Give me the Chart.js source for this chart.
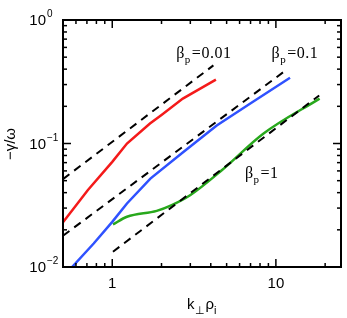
<!DOCTYPE html>
<html>
<head>
<meta charset="utf-8">
<script src="https://cdn.jsdelivr.net/npm/chart.js@4.4.1/dist/chart.umd.min.js"></script>
<style>
  html, body { margin: 0; padding: 0; background: #fff; }
  #wrap { width: 347px; height: 318px; position: relative; }
</style>
</head>
<body>
<div id="wrap"><canvas id="growth"></canvas></div>
<script>
// growth rate curves (k_perp rho_i , -gamma/omega)
const red_k   = [0.50, 0.71, 1.00, 1.23, 1.70, 2.00, 2.70, 4.30];
const red_g   = [0.023, 0.042, 0.071, 0.100, 0.145, 0.170, 0.231, 0.329];
const blue_k  = [0.568, 0.77, 1.00, 1.23, 1.71, 2.72, 4.35, 6.94, 12.2];
const blue_g  = [0.010, 0.0155, 0.0232, 0.0327, 0.052, 0.0853, 0.140, 0.210, 0.341];
const green_k = [1.01, 1.23, 1.87, 2.31, 2.99, 4.67, 8.37, 18.5];
const green_g = [0.0221, 0.0255, 0.0285, 0.0317, 0.0381, 0.0607, 0.120, 0.231];

// dashed reference lines (slope ~ 1)
const dash1_k = [0.50, 4.15];
const dash1_g = [0.0515, 0.429];
const dash2_k = [0.50, 11.1];
const dash2_g = [0.0179, 0.378];
const dash3_k = [1.01, 18.4];
const dash3_g = [0.0133, 0.245];

const x_tick_labels = ['1', '10'];
const y_tick_exps = ['0', '\u22121', '\u22122'];
const beta_labels = ['=0.01', '=0.1', '=1'];

function toPoints(ks, gs) {
    return ks.map((k, i) => ({x: k, y: gs[i]}));
}

function solid(ks, gs, color, smooth) {
    const ds = {data: toPoints(ks, gs), borderColor: color, backgroundColor: color,
                borderWidth: 2.5, pointRadius: 0, showLine: true, tension: 0};
    if (smooth) ds.cubicInterpolationMode = 'monotone';
    return ds;
}

function dashed(ks, gs) {
    return {data: toPoints(ks, gs), borderColor: '#000', borderWidth: 2,
            borderDash: [8, 6], pointRadius: 0, showLine: true, tension: 0};
}

function line(ctx, x1, y1, x2, y2) {
    ctx.beginPath();
    ctx.moveTo(x1, y1);
    ctx.lineTo(x2, y2);
    ctx.stroke();
}

// text with a lowered subscript, e.g. beta_p
function subText(ctx, x, y, parts, big, small, family) {
    let cx = x;
    parts.forEach(([txt, isSub]) => {
        ctx.font = (isSub ? small : big) + 'px ' + family;
        ctx.fillText(txt, cx, isSub ? y + 5 : y);
        cx += ctx.measureText(txt).width + (isSub ? 1 : 0);
    });
}

const framePlugin = {
    id: 'frame',
    afterDraw(chart) {
        const {ctx, chartArea: a, scales: {x, y}} = chart;
        ctx.save();
        ctx.strokeStyle = '#000';
        ctx.fillStyle = '#000';
        ctx.lineWidth = 2;
        ctx.strokeRect(a.left, a.top, a.right - a.left, a.bottom - a.top);

        // tick marks on all four sides, pointing inward
        ctx.lineWidth = 1.5;
        for (let d = -2; d <= 1; d++) {
            for (let m = 1; m <= 9; m++) {
                const v = m * Math.pow(10, d);
                const len = m === 1 ? 8 : 4;
                if (v > x.min && v < x.max) {
                    const px = x.getPixelForValue(v);
                    line(ctx, px, a.bottom, px, a.bottom - len);
                    line(ctx, px, a.top, px, a.top + len);
                }
                if (v > y.min && v < y.max) {
                    const py = y.getPixelForValue(v);
                    line(ctx, a.left, py, a.left + len, py);
                    line(ctx, a.right, py, a.right - len, py);
                }
            }
        }

        // x tick labels
        ctx.font = '15px "Liberation Sans", Arial, sans-serif';
        ctx.textAlign = 'center';
        ctx.textBaseline = 'top';
        x_tick_labels.forEach(lbl => {
            ctx.fillText(lbl, x.getPixelForValue(Number(lbl)), a.bottom + 9);
        });

        // y tick labels 10^n
        y_tick_exps.forEach((e, i) => {
            const py = y.getPixelForValue(Math.pow(10, -i));
            ctx.textAlign = 'right';
            ctx.textBaseline = 'middle';
            ctx.font = '15px "Liberation Sans", Arial, sans-serif';
            ctx.fillText('10', 46, py + 1);
            ctx.textAlign = 'left';
            ctx.textBaseline = 'alphabetic';
            ctx.font = '10px "Liberation Sans", Arial, sans-serif';
            ctx.fillText(e, 47, py - 3);
        });

        // axis titles
        ctx.textAlign = 'left';
        ctx.textBaseline = 'alphabetic';
        subText(ctx, 187, 309, [['k', false], ['\u22a5', true], ['\u03c1', false], ['i', true]],
                15, 11, '"Liberation Sans", Arial, sans-serif');

        ctx.save();
        ctx.translate(15, 144);
        ctx.rotate(-Math.PI / 2);
        ctx.textAlign = 'center';
        ctx.font = '15px "Liberation Sans", Arial, sans-serif';
        ctx.fillText('\u2212\u03b3/\u03c9', 0, 0);
        ctx.restore();

        // beta_p annotations, placed in data coordinates
        const spots = [[2.46, 0.489], [9.41, 0.489], [6.47, 0.0523]];
        ctx.letterSpacing = '0.5px';
        spots.forEach(([k, g], i) => {
            subText(ctx, x.getPixelForValue(k), y.getPixelForValue(g),
                    [['\u03b2', false], ['p', true], [beta_labels[i], false]],
                    16, 11, '"Liberation Serif", "Times New Roman", serif');
        });
        ctx.restore();
    }
};

const chart = new Chart('growth', {
    type: 'scatter',
    data: {
        datasets: [
            dashed(dash1_k, dash1_g),
            dashed(dash2_k, dash2_g),
            dashed(dash3_k, dash3_g),
            solid(red_k, red_g, '#f41a1a', false),
            solid(blue_k, blue_g, '#2f52ff', false),
            solid(green_k, green_g, '#28a81c', true)
        ]
    },
    options: {
        animation: false,
        responsive: true,
        maintainAspectRatio: false,
        devicePixelRatio: 1,
        layout: {padding: {left: 63, top: 20, right: 6, bottom: 51}},
        plugins: {legend: {display: false}, tooltip: {enabled: false}},
        scales: {
            x: {
                type: 'logarithmic', min: 0.5, max: 25,
                ticks: {display: false},
                grid: {display: false, drawTicks: false},
                border: {display: false}
            },
            y: {
                type: 'logarithmic', min: 0.01, max: 1,
                ticks: {display: false},
                grid: {display: false, drawTicks: false},
                border: {display: false}
            }
        }
    },
    plugins: [framePlugin]
});
</script>
</body>
</html>
